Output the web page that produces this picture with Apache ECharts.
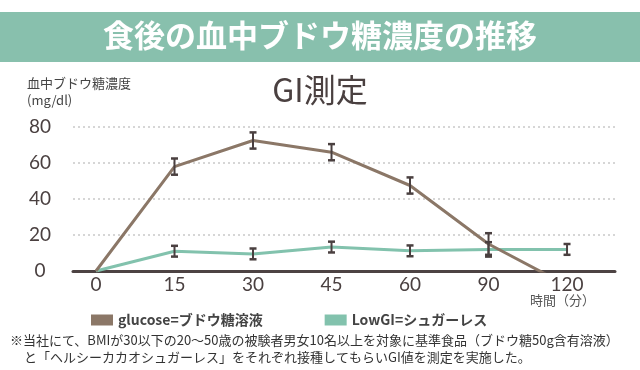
<!DOCTYPE html>
<html><head><meta charset="utf-8">
<script src="https://cdn.jsdelivr.net/npm/echarts@6/dist/echarts.min.js"></script>
<style>html,body{margin:0;padding:0;background:#fff}#c{width:640px;height:370px}</style>
</head><body><div id="c"></div>
<script>
const xLabels = ['0','15','30','45','60','90','120'];
const glucose = [0, 58, 72.5, 66, 47.5, 15, -8];
const glucoseErr = [null, 4.5, 4.5, 4.5, 4.5, 6, null];
const lowGI = [0, 11, 9.5, 13.3, 11.2, 12, 12];
const lowGIErr = [null, 3, 3, 3, 3, 4, 3];
const yTicks = [0, 20, 40, 60, 80];
const legendNames = ['glucose=ブドウ糖溶液', 'LowGI=シュガーレス'];

const BROWN = '#8b7767', GREEN = '#82c2ad', DARK = '#4a4040';
const FONT = '"Noto Sans CJK JP", "Noto Sans", sans-serif';

const pairs = arr => arr.map((v, i) => [i, v]);
const errPairs = (vals, errs) => vals.map((v, i) => errs[i] == null ? null : [i, v, errs[i]]).filter(Boolean);

function errRender(params, api) {
  const x = api.value(0), y = api.value(1), e = api.value(2);
  const t = api.coord([x, y + e]), b = api.coord([x, y - e]);
  const w = 3.5;
  const st = { stroke: DARK, lineWidth: 2 };
  const cap = { stroke: DARK, lineWidth: 2.5 };
  return { type: 'group', children: [
    { type: 'line', shape: { x1: t[0], y1: t[1], x2: b[0], y2: b[1] }, style: st },
    { type: 'line', shape: { x1: t[0] - w, y1: t[1], x2: t[0] + w, y2: t[1] }, style: cap },
    { type: 'line', shape: { x1: b[0] - w, y1: b[1], x2: b[0] + w, y2: b[1] }, style: cap }
  ]};
}

const chart = echarts.init(document.getElementById('c'), null, { renderer: 'canvas' });
chart.setOption({
  animation: false,
  textStyle: { fontFamily: FONT },
  graphic: [
    { type: 'rect', left: 0, top: 12, shape: { width: 640, height: 50 }, style: { fill: '#88c0ad' }, z: 0 },
    { type: 'text', left: 'center', top: 20, style: { text: '食後の血中ブドウ糖濃度の推移', fill: '#fff', font: 'bold 31px ' + FONT }, z: 1 },
    { type: 'text', left: 'center', top: 74, style: { text: 'GI測定', fill: DARK, font: '32px ' + FONT } },
    { type: 'text', left: 27, top: 75, style: { text: '血中ブドウ糖濃度\n(mg/dl)', fill: '#444', font: '13px ' + FONT, lineHeight: 17 } },
    { type: 'text', right: 45, top: 294, style: { text: '時間（分）', fill: '#555', font: '13px ' + FONT } },
    { type: 'text', left: 10, top: 334, style: { text: '※当社にて、BMIが30以下の20～50歳の被験者男女10名以上を対象に基準食品（ブドウ糖50g含有溶液）', fill: '#333', font: '13px ' + FONT } },
    { type: 'text', left: 24, top: 351, style: { text: 'と「ヘルシーカカオシュガーレス」をそれぞれ接種してもらいGI値を測定を実施した。', fill: '#333', font: '13px ' + FONT } }
  ],
  legend: {
    data: legendNames, left: 86, top: 308, icon: 'rect', itemWidth: 22, itemHeight: 11, itemGap: 62,
    textStyle: { color: '#444', fontSize: 14, fontWeight: 'bold', fontFamily: FONT }
  },
  grid: { left: 73, right: 25, top: 127, bottom: 99 },
  xAxis: {
    type: 'value', min: -0.293, max: 6.611,
    axisLine: { show: true, lineStyle: { color: '#4d4343', width: 3 } },
    axisTick: { show: false }, splitLine: { show: false },
    axisLabel: { customValues: xLabels.map((_, i) => i), formatter: v => xLabels[Math.round(v)], color: DARK, fontSize: 19, fontFamily: 'Lato, sans-serif', margin: 4 }
  },
  yAxis: {
    type: 'value', min: yTicks[0], max: yTicks[yTicks.length - 1], interval: 20,
    axisLine: { show: false }, axisTick: { show: false },
    splitLine: { lineStyle: { color: '#c9c9c9', type: [2, 3], width: 1.5 } },
    axisLabel: { color: DARK, fontSize: 19, fontFamily: 'Lato, sans-serif', align: 'center', margin: 33 }
  },
  series: [
    { name: legendNames[0], type: 'line', data: pairs(glucose), showSymbol: false, clip: true,
      lineStyle: { color: BROWN, width: 3 }, itemStyle: { color: BROWN }, z: 3 },
    { name: legendNames[1], type: 'line', data: pairs(lowGI), showSymbol: false, clip: true,
      lineStyle: { color: GREEN, width: 3 }, itemStyle: { color: GREEN }, z: 2 },
    { type: 'custom', renderItem: errRender, data: errPairs(glucose, glucoseErr), z: 5, silent: true },
    { type: 'custom', renderItem: errRender, data: errPairs(lowGI, lowGIErr), z: 5, silent: true }
  ]
});
</script></body></html>
